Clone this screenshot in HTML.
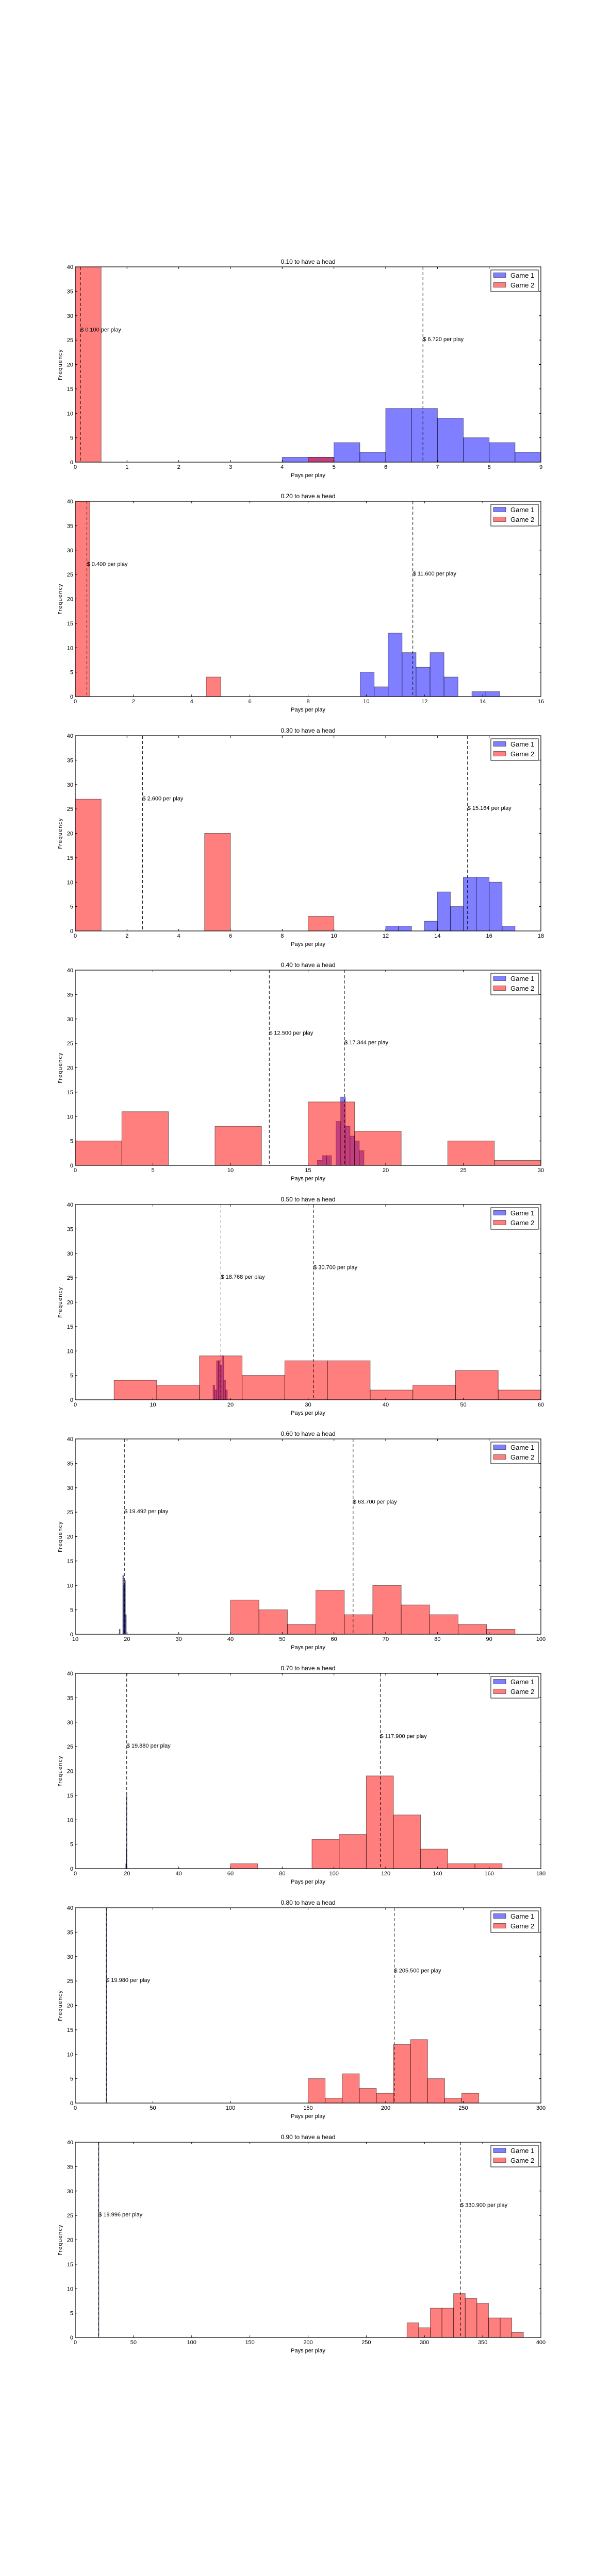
<!DOCTYPE html>
<html><head><meta charset="utf-8"><title>Game payout histograms</title>
<style>
html,body{margin:0;padding:0;background:#fff;width:1152px;height:5184px;overflow:hidden;}
svg{display:block;position:absolute;left:0;top:0;}
text{font-family:"Liberation Sans Narrow","Liberation Sans",sans-serif;fill:#000;}
</style></head>
<body>
<svg id="chart" width="1152" height="5184" viewBox="0 0 1152 5184" xmlns="http://www.w3.org/2000/svg"></svg>
<script>
const titles = ["0.10 to have a head","0.20 to have a head","0.30 to have a head","0.40 to have a head","0.50 to have a head","0.60 to have a head","0.70 to have a head","0.80 to have a head","0.90 to have a head"];
const xMins = [0,0,0,0,0,10,0,0,0];
const xMaxs = [9,16,18,30,60,100,180,300,400];
const xTickSteps = [1,2,2,5,10,10,20,50,50];
const yTicks = [0,5,10,15,20,25,30,35,40];
const g1Starts = [4,9.79,12,15.6,17.75,18.5,19.5,19.9,19.95];
const g1Widths = [0.5,0.48,0.5,0.3,0.23,0.17,0.1,0.1,0.1];
const g1Counts = [
 [1,1,4,2,11,11,9,5,4,2],
 [5,2,13,9,6,9,4,0,1,1],
 [1,1,0,2,8,5,11,11,10,1],
 [1,2,2,0,9,14,8,6,5,3],
 [3,2,8,8,7,9,4,2],
 [1,0,0,0,12,10,11,4],
 [1,0,4,15],
 [50],
 [50]
];
const g2Starts = [0,0,0,0,5,40,60,150,285];
const g2Widths = [0.5,0.5,1,3,5.5,5.5,10.5,11,10];
const g2Counts = [
 [99,0,0,0,0,0,0,0,0,1],
 [96,0,0,0,0,0,0,0,0,4],
 [27,0,0,0,0,20,0,0,0,3],
 [5,11,0,8,0,13,7,0,5,1],
 [4,3,9,5,8,8,2,3,6,2],
 [7,5,2,9,4,10,6,4,2,1],
 [1,0,0,6,7,19,11,4,1,1],
 [5,1,6,3,2,12,13,5,1,2],
 [3,2,6,6,9,8,7,4,4,1]
];
const g1Means = [6.72,11.6,15.164,17.344,18.768,19.492,19.88,19.98,19.996];
const g2Means = [0.1,0.4,2.6,12.5,30.7,63.7,117.9,205.5,330.9];

const NS="http://www.w3.org/2000/svg";
const svg=document.getElementById('chart');
const L=146,R=1049,H=379,TOP0=518,GAP=455,YMAX=40;
function mk(tag,attrs,parent){const e=document.createElementNS(NS,tag);for(const k in attrs)e.setAttribute(k,attrs[k]);(parent||svg).appendChild(e);return e;}

for(let p=0;p<titles.length;p++){
  const T=TOP0+GAP*p,B=T+H;
  const xs=v=>L+(v-xMins[p])/(xMaxs[p]-xMins[p])*(R-L);
  const ys=v=>B-Math.min(v,YMAX)/YMAX*H;
  const g=mk('g',{});
  
  
  const cid='clip'+p;
  const cp=mk('clipPath',{id:cid},g);
  mk('rect',{x:L,y:T,width:R-L,height:H},cp);
  const plot=mk('g',{'clip-path':'url(#'+cid+')'},g);
  g1Counts[p].forEach((c,i)=>{
    if(c<=0)return;
    const x0=xs(g1Starts[p]+i*g1Widths[p]),x1=xs(g1Starts[p]+(i+1)*g1Widths[p]);
    const r=mk('rect',{x:x0,y:ys(c),width:Math.max(x1-x0,0.8),height:B-ys(c),fill:'#0000ff','fill-opacity':0.5,stroke:'#000','stroke-opacity':0.5,'stroke-width':1},plot);
    
    
  });
  g2Counts[p].forEach((c,i)=>{
    if(c<=0)return;
    const x0=xs(g2Starts[p]+i*g2Widths[p]),x1=xs(g2Starts[p]+(i+1)*g2Widths[p]);
    const r=mk('rect',{x:x0,y:ys(c),width:x1-x0,height:B-ys(c),fill:'#ff0000','fill-opacity':0.5,stroke:'#000','stroke-opacity':0.5,'stroke-width':1},plot);
    
    
  });
  [[g1Means[p],25.2],[g2Means[p],27.2]].forEach(([m,ly],k)=>{
    const x=xs(m);
    const ln=mk('line',{x1:x,x2:x,y1:T,y2:B,stroke:'#000','stroke-width':1,'stroke-dasharray':'6,4'},g);
    
    
    const t=mk('text',{x:x,y:ys(ly)+4,'font-size':11},g);
    t.textContent='$ '+m.toFixed(3)+' per play';
    
    
  });
  const fr=mk('rect',{x:L,y:T,width:R-L,height:H,fill:'none',stroke:'#000','stroke-width':1.2},g);
  
  
  yTicks.forEach(v=>{
    const y=ys(v);
    mk('line',{x1:L,x2:L+4,y1:y,y2:y,stroke:'#000'},g);
    mk('line',{x1:R-4,x2:R,y1:y,y2:y,stroke:'#000'},g);
    const t=mk('text',{x:L-4,y:y+4,'font-size':11,'text-anchor':'end'},g);
    t.textContent=v;
    
    
  });
  for(let v=xMins[p];v<=xMaxs[p]+1e-9;v+=xTickSteps[p]){
    const x=xs(v);
    mk('line',{x1:x,x2:x,y1:B,y2:B-4,stroke:'#000'},g);
    mk('line',{x1:x,x2:x,y1:T,y2:T+4,stroke:'#000'},g);
    const t=mk('text',{x:x,y:B+13,'font-size':11,'text-anchor':'middle'},g);
    t.textContent=v;
    
    
  }
  const tt=mk('text',{x:(L+R)/2,y:T-6,'font-size':12,'text-anchor':'middle'},g);
  tt.textContent=titles[p];
  
  
  const xl=mk('text',{x:(L+R)/2,y:B+29,'font-size':11,'text-anchor':'middle'},g);
  xl.textContent='Pays per play';
  
  
  const yl=mk('text',{x:0,y:0,'font-size':10,'text-anchor':'middle',transform:'translate(120,'+(T+H/2)+') rotate(-90)',style:'font-family:"DejaVu Sans",sans-serif;letter-spacing:1px'},g);
  yl.textContent='Frequency';
  
  
  const lg=mk('g',{},g);
  
  
  mk('rect',{x:952,y:T+6,width:92,height:42,fill:'#fff',stroke:'#000','stroke-width':1},lg);
  [['Game 1','#0000ff',T+16],['Game 2','#ff0000',T+35]].forEach(([lab,col,cy],k)=>{
    const sw=mk('rect',{x:957,y:cy-4.5,width:24,height:9,fill:col,'fill-opacity':0.5,stroke:'#000','stroke-opacity':0.5},lg);
    
    
    const t=mk('text',{x:990,y:cy+5,'font-size':13},lg);
    t.textContent=lab;
    
    
  });
}
</script>
</body></html>
